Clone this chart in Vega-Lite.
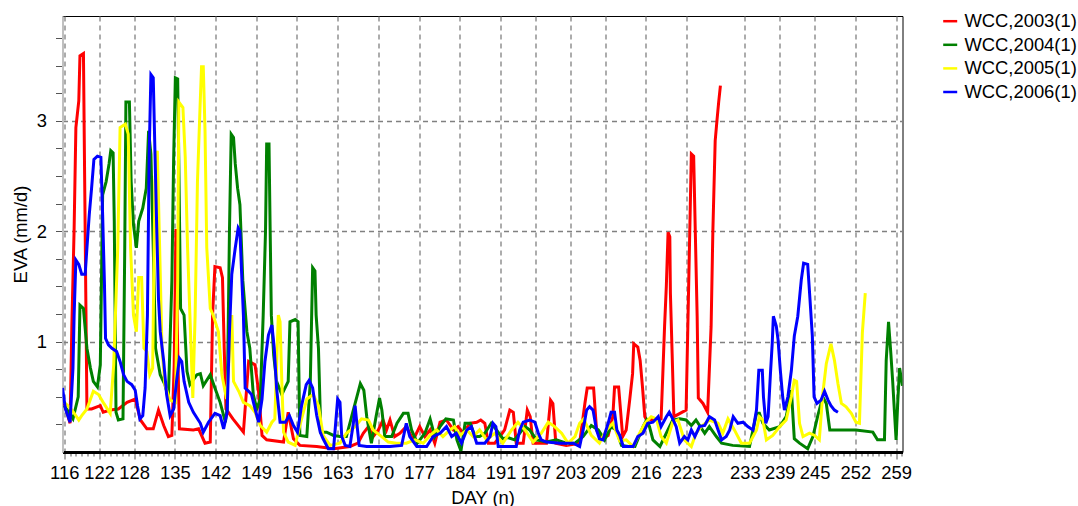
{
"$schema": "https://vega.github.io/schema/vega-lite/v6.json",
"width": 840, "height": 436,
"autosize": "none",
"padding": {"left": 62.5, "top": 16, "right": 175.5, "bottom": 54},
"background": "white",
"config": {"view": {"stroke": "black", "strokeWidth": 1}, "font": "Liberation Sans"},
"data": {"values": [
{"series":"WCC,2003(1)","day":116.0,"eva":0.44},{"series":"WCC,2003(1)","day":117.0,"eva":0.26},{"series":"WCC,2003(1)","day":117.3,"eva":1.12},{"series":"WCC,2003(1)","day":117.7,"eva":2.03},{"series":"WCC,2003(1)","day":118.0,"eva":2.94},{"series":"WCC,2003(1)","day":118.5,"eva":3.18},{"series":"WCC,2003(1)","day":118.7,"eva":3.59},{"series":"WCC,2003(1)","day":119.3,"eva":3.61},{"series":"WCC,2003(1)","day":119.5,"eva":2.52},{"series":"WCC,2003(1)","day":119.7,"eva":1.45},{"series":"WCC,2003(1)","day":119.9,"eva":0.39},{"series":"WCC,2003(1)","day":120.7,"eva":0.39},{"series":"WCC,2003(1)","day":122.2,"eva":0.42},{"series":"WCC,2003(1)","day":122.7,"eva":0.36},{"series":"WCC,2003(1)","day":123.9,"eva":0.38},{"series":"WCC,2003(1)","day":125.3,"eva":0.39},{"series":"WCC,2003(1)","day":126.8,"eva":0.45},{"series":"WCC,2003(1)","day":128.2,"eva":0.48},{"series":"WCC,2003(1)","day":129.1,"eva":0.29},{"series":"WCC,2003(1)","day":130.2,"eva":0.21},{"series":"WCC,2003(1)","day":131.3,"eva":0.21},{"series":"WCC,2003(1)","day":132.2,"eva":0.38},{"series":"WCC,2003(1)","day":133.1,"eva":0.24},{"series":"WCC,2003(1)","day":133.9,"eva":0.14},{"series":"WCC,2003(1)","day":134.5,"eva":0.15},{"series":"WCC,2003(1)","day":134.9,"eva":0.79},{"series":"WCC,2003(1)","day":135.2,"eva":2.02},{"series":"WCC,2003(1)","day":135.5,"eva":0.94},{"series":"WCC,2003(1)","day":135.8,"eva":0.21},{"series":"WCC,2003(1)","day":138.2,"eva":0.20},{"series":"WCC,2003(1)","day":139.1,"eva":0.21},{"series":"WCC,2003(1)","day":140.2,"eva":0.08},{"series":"WCC,2003(1)","day":141.1,"eva":0.09},{"series":"WCC,2003(1)","day":141.5,"eva":1.24},{"series":"WCC,2003(1)","day":141.9,"eva":1.68},{"series":"WCC,2003(1)","day":142.8,"eva":1.67},{"series":"WCC,2003(1)","day":143.2,"eva":1.58},{"series":"WCC,2003(1)","day":143.5,"eva":0.94},{"series":"WCC,2003(1)","day":143.8,"eva":0.39},{"series":"WCC,2003(1)","day":145.0,"eva":0.30},{"series":"WCC,2003(1)","day":146.8,"eva":0.18},{"series":"WCC,2003(1)","day":147.7,"eva":0.82},{"series":"WCC,2003(1)","day":148.8,"eva":0.79},{"series":"WCC,2003(1)","day":149.4,"eva":0.55},{"series":"WCC,2003(1)","day":150.0,"eva":0.15},{"series":"WCC,2003(1)","day":150.8,"eva":0.11},{"series":"WCC,2003(1)","day":153.7,"eva":0.09},{"series":"WCC,2003(1)","day":154.5,"eva":0.36},{"series":"WCC,2003(1)","day":155.4,"eva":0.12},{"series":"WCC,2003(1)","day":156.5,"eva":0.06},{"series":"WCC,2003(1)","day":159.4,"eva":0.05},{"series":"WCC,2003(1)","day":162.3,"eva":0.03},{"series":"WCC,2003(1)","day":165.1,"eva":0.05},{"series":"WCC,2003(1)","day":166.5,"eva":0.08},{"series":"WCC,2003(1)","day":167.4,"eva":0.17},{"series":"WCC,2003(1)","day":168.3,"eva":0.23},{"series":"WCC,2003(1)","day":169.1,"eva":0.14},{"series":"WCC,2003(1)","day":170.0,"eva":0.20},{"series":"WCC,2003(1)","day":170.8,"eva":0.29},{"series":"WCC,2003(1)","day":171.4,"eva":0.20},{"series":"WCC,2003(1)","day":172.0,"eva":0.29},{"series":"WCC,2003(1)","day":172.8,"eva":0.14},{"series":"WCC,2003(1)","day":173.7,"eva":0.17},{"series":"WCC,2003(1)","day":174.8,"eva":0.23},{"series":"WCC,2003(1)","day":176.0,"eva":0.11},{"series":"WCC,2003(1)","day":177.1,"eva":0.23},{"series":"WCC,2003(1)","day":178.0,"eva":0.14},{"series":"WCC,2003(1)","day":178.9,"eva":0.20},{"series":"WCC,2003(1)","day":179.7,"eva":0.08},{"series":"WCC,2003(1)","day":180.6,"eva":0.27},{"series":"WCC,2003(1)","day":181.7,"eva":0.29},{"series":"WCC,2003(1)","day":182.9,"eva":0.20},{"series":"WCC,2003(1)","day":183.7,"eva":0.23},{"series":"WCC,2003(1)","day":184.6,"eva":0.17},{"series":"WCC,2003(1)","day":185.7,"eva":0.26},{"series":"WCC,2003(1)","day":186.9,"eva":0.27},{"series":"WCC,2003(1)","day":187.6,"eva":0.29},{"series":"WCC,2003(1)","day":188.3,"eva":0.26},{"series":"WCC,2003(1)","day":188.9,"eva":0.08},{"series":"WCC,2003(1)","day":190.0,"eva":0.08},{"series":"WCC,2003(1)","day":190.9,"eva":0.14},{"series":"WCC,2003(1)","day":191.7,"eva":0.20},{"series":"WCC,2003(1)","day":192.6,"eva":0.38},{"series":"WCC,2003(1)","day":193.2,"eva":0.36},{"series":"WCC,2003(1)","day":193.7,"eva":0.08},{"series":"WCC,2003(1)","day":194.9,"eva":0.08},{"series":"WCC,2003(1)","day":195.6,"eva":0.38},{"series":"WCC,2003(1)","day":196.1,"eva":0.32},{"series":"WCC,2003(1)","day":196.6,"eva":0.08},{"series":"WCC,2003(1)","day":198.9,"eva":0.08},{"series":"WCC,2003(1)","day":199.6,"eva":0.47},{"series":"WCC,2003(1)","day":200.0,"eva":0.44},{"series":"WCC,2003(1)","day":200.5,"eva":0.08},{"series":"WCC,2003(1)","day":202.3,"eva":0.06},{"series":"WCC,2003(1)","day":204.6,"eva":0.08},{"series":"WCC,2003(1)","day":205.5,"eva":0.44},{"series":"WCC,2003(1)","day":205.9,"eva":0.58},{"series":"WCC,2003(1)","day":207.0,"eva":0.58},{"series":"WCC,2003(1)","day":207.5,"eva":0.20},{"series":"WCC,2003(1)","day":208.3,"eva":0.12},{"series":"WCC,2003(1)","day":209.5,"eva":0.15},{"series":"WCC,2003(1)","day":210.3,"eva":0.32},{"series":"WCC,2003(1)","day":210.6,"eva":0.59},{"series":"WCC,2003(1)","day":211.3,"eva":0.59},{"series":"WCC,2003(1)","day":212.0,"eva":0.14},{"series":"WCC,2003(1)","day":212.6,"eva":0.20},{"series":"WCC,2003(1)","day":213.2,"eva":0.47},{"series":"WCC,2003(1)","day":213.7,"eva":0.71},{"series":"WCC,2003(1)","day":213.9,"eva":0.98},{"series":"WCC,2003(1)","day":214.6,"eva":0.95},{"series":"WCC,2003(1)","day":215.0,"eva":0.83},{"series":"WCC,2003(1)","day":215.4,"eva":0.59},{"series":"WCC,2003(1)","day":215.8,"eva":0.32},{"series":"WCC,2003(1)","day":216.1,"eva":0.29},{"series":"WCC,2003(1)","day":218.6,"eva":0.30},{"series":"WCC,2003(1)","day":218.9,"eva":0.71},{"series":"WCC,2003(1)","day":219.2,"eva":1.14},{"series":"WCC,2003(1)","day":219.5,"eva":1.50},{"series":"WCC,2003(1)","day":219.8,"eva":1.99},{"series":"WCC,2003(1)","day":220.1,"eva":1.95},{"series":"WCC,2003(1)","day":220.2,"eva":1.44},{"series":"WCC,2003(1)","day":220.5,"eva":0.89},{"series":"WCC,2003(1)","day":220.8,"eva":0.32},{"series":"WCC,2003(1)","day":222.9,"eva":0.38},{"series":"WCC,2003(1)","day":223.2,"eva":1.14},{"series":"WCC,2003(1)","day":223.5,"eva":1.92},{"series":"WCC,2003(1)","day":223.8,"eva":2.70},{"series":"WCC,2003(1)","day":224.2,"eva":2.68},{"series":"WCC,2003(1)","day":224.5,"eva":1.95},{"series":"WCC,2003(1)","day":224.8,"eva":1.23},{"series":"WCC,2003(1)","day":225.0,"eva":0.49},{"series":"WCC,2003(1)","day":225.8,"eva":0.44},{"series":"WCC,2003(1)","day":226.6,"eva":0.36},{"series":"WCC,2003(1)","day":227.2,"eva":1.14},{"series":"WCC,2003(1)","day":227.5,"eva":2.00},{"series":"WCC,2003(1)","day":227.9,"eva":2.82},{"series":"WCC,2003(1)","day":228.2,"eva":3.00},{"series":"WCC,2003(1)","day":228.5,"eva":3.17},{"series":"WCC,2003(1)","day":228.8,"eva":3.32},
{"series":"WCC,2004(1)","day":116.0,"eva":0.42},{"series":"WCC,2004(1)","day":117.5,"eva":0.30},{"series":"WCC,2004(1)","day":118.4,"eva":0.50},{"series":"WCC,2004(1)","day":118.7,"eva":1.33},{"series":"WCC,2004(1)","day":119.3,"eva":1.30},{"series":"WCC,2004(1)","day":119.9,"eva":0.94},{"series":"WCC,2004(1)","day":120.5,"eva":0.76},{"series":"WCC,2004(1)","day":121.0,"eva":0.64},{"series":"WCC,2004(1)","day":121.7,"eva":0.59},{"series":"WCC,2004(1)","day":122.2,"eva":0.79},{"series":"WCC,2004(1)","day":122.6,"eva":2.33},{"series":"WCC,2004(1)","day":123.2,"eva":2.45},{"series":"WCC,2004(1)","day":123.7,"eva":2.61},{"series":"WCC,2004(1)","day":124.0,"eva":2.73},{"series":"WCC,2004(1)","day":124.4,"eva":2.71},{"series":"WCC,2004(1)","day":124.6,"eva":2.09},{"series":"WCC,2004(1)","day":124.9,"eva":0.36},{"series":"WCC,2004(1)","day":125.3,"eva":0.29},{"series":"WCC,2004(1)","day":126.1,"eva":0.30},{"series":"WCC,2004(1)","day":126.4,"eva":1.85},{"series":"WCC,2004(1)","day":126.6,"eva":3.17},{"series":"WCC,2004(1)","day":127.2,"eva":3.17},{"series":"WCC,2004(1)","day":127.5,"eva":2.45},{"series":"WCC,2004(1)","day":127.9,"eva":2.06},{"series":"WCC,2004(1)","day":128.4,"eva":1.85},{"series":"WCC,2004(1)","day":128.8,"eva":2.09},{"series":"WCC,2004(1)","day":129.5,"eva":2.21},{"series":"WCC,2004(1)","day":130.1,"eva":2.39},{"series":"WCC,2004(1)","day":130.5,"eva":2.91},{"series":"WCC,2004(1)","day":130.9,"eva":2.70},{"series":"WCC,2004(1)","day":131.3,"eva":1.85},{"series":"WCC,2004(1)","day":131.7,"eva":0.94},{"series":"WCC,2004(1)","day":132.5,"eva":0.70},{"series":"WCC,2004(1)","day":133.3,"eva":0.61},{"series":"WCC,2004(1)","day":133.9,"eva":0.49},{"series":"WCC,2004(1)","day":134.5,"eva":1.55},{"series":"WCC,2004(1)","day":134.8,"eva":2.64},{"series":"WCC,2004(1)","day":135.1,"eva":3.39},{"series":"WCC,2004(1)","day":135.5,"eva":3.38},{"series":"WCC,2004(1)","day":135.7,"eva":2.61},{"series":"WCC,2004(1)","day":136.0,"eva":1.30},{"series":"WCC,2004(1)","day":136.6,"eva":1.24},{"series":"WCC,2004(1)","day":137.1,"eva":0.73},{"series":"WCC,2004(1)","day":137.6,"eva":0.61},{"series":"WCC,2004(1)","day":138.8,"eva":0.70},{"series":"WCC,2004(1)","day":139.4,"eva":0.71},{"series":"WCC,2004(1)","day":139.9,"eva":0.60},{"series":"WCC,2004(1)","day":141.1,"eva":0.70},{"series":"WCC,2004(1)","day":141.9,"eva":0.58},{"series":"WCC,2004(1)","day":142.8,"eva":0.45},{"series":"WCC,2004(1)","day":143.7,"eva":0.27},{"series":"WCC,2004(1)","day":144.0,"eva":0.39},{"series":"WCC,2004(1)","day":144.4,"eva":2.00},{"series":"WCC,2004(1)","day":144.7,"eva":2.88},{"series":"WCC,2004(1)","day":145.1,"eva":2.85},{"series":"WCC,2004(1)","day":145.4,"eva":2.61},{"series":"WCC,2004(1)","day":145.8,"eva":2.39},{"series":"WCC,2004(1)","day":146.2,"eva":2.24},{"series":"WCC,2004(1)","day":146.7,"eva":1.55},{"series":"WCC,2004(1)","day":147.4,"eva":1.09},{"series":"WCC,2004(1)","day":147.9,"eva":0.94},{"series":"WCC,2004(1)","day":148.5,"eva":0.52},{"series":"WCC,2004(1)","day":149.1,"eva":0.39},{"series":"WCC,2004(1)","day":149.7,"eva":0.48},{"series":"WCC,2004(1)","day":150.2,"eva":1.24},{"series":"WCC,2004(1)","day":150.6,"eva":2.00},{"series":"WCC,2004(1)","day":150.8,"eva":2.79},{"series":"WCC,2004(1)","day":151.2,"eva":2.79},{"series":"WCC,2004(1)","day":151.4,"eva":2.00},{"series":"WCC,2004(1)","day":151.6,"eva":1.24},{"series":"WCC,2004(1)","day":152.0,"eva":0.88},{"series":"WCC,2004(1)","day":152.5,"eva":0.64},{"series":"WCC,2004(1)","day":153.4,"eva":0.52},{"series":"WCC,2004(1)","day":154.5,"eva":0.64},{"series":"WCC,2004(1)","day":154.8,"eva":1.18},{"series":"WCC,2004(1)","day":155.7,"eva":1.20},{"series":"WCC,2004(1)","day":156.2,"eva":1.18},{"series":"WCC,2004(1)","day":156.5,"eva":0.15},{"series":"WCC,2004(1)","day":157.7,"eva":0.14},{"series":"WCC,2004(1)","day":158.3,"eva":0.64},{"series":"WCC,2004(1)","day":158.7,"eva":1.67},{"series":"WCC,2004(1)","day":159.1,"eva":1.64},{"series":"WCC,2004(1)","day":159.3,"eva":1.24},{"series":"WCC,2004(1)","day":159.7,"eva":0.94},{"series":"WCC,2004(1)","day":160.1,"eva":0.18},{"series":"WCC,2004(1)","day":161.1,"eva":0.18},{"series":"WCC,2004(1)","day":162.3,"eva":0.15},{"series":"WCC,2004(1)","day":163.4,"eva":0.14},{"series":"WCC,2004(1)","day":164.5,"eva":0.14},{"series":"WCC,2004(1)","day":165.4,"eva":0.32},{"series":"WCC,2004(1)","day":166.3,"eva":0.50},{"series":"WCC,2004(1)","day":166.9,"eva":0.62},{"series":"WCC,2004(1)","day":167.5,"eva":0.56},{"series":"WCC,2004(1)","day":168.0,"eva":0.32},{"series":"WCC,2004(1)","day":168.8,"eva":0.08},{"series":"WCC,2004(1)","day":169.6,"eva":0.32},{"series":"WCC,2004(1)","day":170.2,"eva":0.49},{"series":"WCC,2004(1)","day":170.6,"eva":0.38},{"series":"WCC,2004(1)","day":171.1,"eva":0.14},{"series":"WCC,2004(1)","day":172.3,"eva":0.14},{"series":"WCC,2004(1)","day":173.2,"eva":0.26},{"series":"WCC,2004(1)","day":174.3,"eva":0.35},{"series":"WCC,2004(1)","day":175.1,"eva":0.35},{"series":"WCC,2004(1)","day":175.7,"eva":0.20},{"series":"WCC,2004(1)","day":176.7,"eva":0.08},{"series":"WCC,2004(1)","day":178.0,"eva":0.17},{"series":"WCC,2004(1)","day":178.9,"eva":0.30},{"series":"WCC,2004(1)","day":179.7,"eva":0.14},{"series":"WCC,2004(1)","day":180.6,"eva":0.23},{"series":"WCC,2004(1)","day":181.6,"eva":0.30},{"series":"WCC,2004(1)","day":182.9,"eva":0.29},{"series":"WCC,2004(1)","day":183.5,"eva":0.11},{"series":"WCC,2004(1)","day":184.2,"eva":0.01},{"series":"WCC,2004(1)","day":184.9,"eva":0.26},{"series":"WCC,2004(1)","day":185.8,"eva":0.26},{"series":"WCC,2004(1)","day":186.6,"eva":0.14},{"series":"WCC,2004(1)","day":187.4,"eva":0.14},{"series":"WCC,2004(1)","day":188.3,"eva":0.17},{"series":"WCC,2004(1)","day":189.4,"eva":0.26},{"series":"WCC,2004(1)","day":190.3,"eva":0.20},{"series":"WCC,2004(1)","day":191.4,"eva":0.12},{"series":"WCC,2004(1)","day":192.3,"eva":0.13},{"series":"WCC,2004(1)","day":193.4,"eva":0.11},{"series":"WCC,2004(1)","day":195.2,"eva":0.23},{"series":"WCC,2004(1)","day":196.0,"eva":0.20},{"series":"WCC,2004(1)","day":197.2,"eva":0.11},{"series":"WCC,2004(1)","day":198.9,"eva":0.09},{"series":"WCC,2004(1)","day":200.6,"eva":0.11},{"series":"WCC,2004(1)","day":202.3,"eva":0.08},{"series":"WCC,2004(1)","day":203.8,"eva":0.08},{"series":"WCC,2004(1)","day":205.2,"eva":0.14},{"series":"WCC,2004(1)","day":206.6,"eva":0.24},{"series":"WCC,2004(1)","day":207.8,"eva":0.20},{"series":"WCC,2004(1)","day":208.9,"eva":0.11},{"series":"WCC,2004(1)","day":210.0,"eva":0.23},{"series":"WCC,2004(1)","day":210.9,"eva":0.20},{"series":"WCC,2004(1)","day":211.8,"eva":0.06},{"series":"WCC,2004(1)","day":213.0,"eva":0.05},{"series":"WCC,2004(1)","day":214.1,"eva":0.05},{"series":"WCC,2004(1)","day":215.5,"eva":0.23},{"series":"WCC,2004(1)","day":216.1,"eva":0.29},{"series":"WCC,2004(1)","day":216.6,"eva":0.23},{"series":"WCC,2004(1)","day":217.2,"eva":0.11},{"series":"WCC,2004(1)","day":218.4,"eva":0.05},{"series":"WCC,2004(1)","day":219.5,"eva":0.17},{"series":"WCC,2004(1)","day":220.6,"eva":0.29},{"series":"WCC,2004(1)","day":221.8,"eva":0.30},{"series":"WCC,2004(1)","day":222.9,"eva":0.29},{"series":"WCC,2004(1)","day":223.8,"eva":0.24},{"series":"WCC,2004(1)","day":224.6,"eva":0.29},{"series":"WCC,2004(1)","day":226.1,"eva":0.17},{"series":"WCC,2004(1)","day":226.9,"eva":0.23},{"series":"WCC,2004(1)","day":228.1,"eva":0.14},{"series":"WCC,2004(1)","day":229.0,"eva":0.08},{"series":"WCC,2004(1)","day":230.9,"eva":0.06},{"series":"WCC,2004(1)","day":233.8,"eva":0.05},{"series":"WCC,2004(1)","day":235.0,"eva":0.35},{"series":"WCC,2004(1)","day":235.5,"eva":0.35},{"series":"WCC,2004(1)","day":236.1,"eva":0.26},{"series":"WCC,2004(1)","day":237.2,"eva":0.20},{"series":"WCC,2004(1)","day":239.0,"eva":0.23},{"series":"WCC,2004(1)","day":240.1,"eva":0.32},{"series":"WCC,2004(1)","day":241.0,"eva":0.56},{"series":"WCC,2004(1)","day":241.5,"eva":0.12},{"series":"WCC,2004(1)","day":242.4,"eva":0.08},{"series":"WCC,2004(1)","day":243.8,"eva":0.03},{"series":"WCC,2004(1)","day":244.7,"eva":0.14},{"series":"WCC,2004(1)","day":245.5,"eva":0.32},{"series":"WCC,2004(1)","day":246.4,"eva":0.50},{"series":"WCC,2004(1)","day":247.0,"eva":0.44},{"series":"WCC,2004(1)","day":247.6,"eva":0.20},{"series":"WCC,2004(1)","day":252.1,"eva":0.20},{"series":"WCC,2004(1)","day":255.0,"eva":0.18},{"series":"WCC,2004(1)","day":255.8,"eva":0.11},{"series":"WCC,2004(1)","day":257.0,"eva":0.11},{"series":"WCC,2004(1)","day":257.3,"eva":0.83},{"series":"WCC,2004(1)","day":257.7,"eva":1.18},{"series":"WCC,2004(1)","day":258.1,"eva":0.89},{"series":"WCC,2004(1)","day":258.4,"eva":0.65},{"series":"WCC,2004(1)","day":258.7,"eva":0.38},{"series":"WCC,2004(1)","day":259.0,"eva":0.11},{"series":"WCC,2004(1)","day":259.3,"eva":0.47},{"series":"WCC,2004(1)","day":259.6,"eva":0.76},{"series":"WCC,2004(1)","day":260.1,"eva":0.60},
{"series":"WCC,2005(1)","day":116.0,"eva":0.45},{"series":"WCC,2005(1)","day":117.0,"eva":0.40},{"series":"WCC,2005(1)","day":117.6,"eva":0.36},{"series":"WCC,2005(1)","day":118.5,"eva":0.29},{"series":"WCC,2005(1)","day":119.0,"eva":0.33},{"series":"WCC,2005(1)","day":119.9,"eva":0.39},{"series":"WCC,2005(1)","day":121.0,"eva":0.55},{"series":"WCC,2005(1)","day":121.9,"eva":0.52},{"series":"WCC,2005(1)","day":122.8,"eva":0.44},{"series":"WCC,2005(1)","day":123.9,"eva":0.35},{"series":"WCC,2005(1)","day":124.5,"eva":0.79},{"series":"WCC,2005(1)","day":125.2,"eva":1.85},{"series":"WCC,2005(1)","day":125.6,"eva":2.94},{"series":"WCC,2005(1)","day":126.5,"eva":2.97},{"series":"WCC,2005(1)","day":127.0,"eva":2.88},{"series":"WCC,2005(1)","day":127.4,"eva":1.85},{"series":"WCC,2005(1)","day":127.9,"eva":1.24},{"series":"WCC,2005(1)","day":128.4,"eva":1.09},{"series":"WCC,2005(1)","day":128.8,"eva":1.58},{"series":"WCC,2005(1)","day":129.3,"eva":1.58},{"series":"WCC,2005(1)","day":129.7,"eva":0.94},{"series":"WCC,2005(1)","day":130.2,"eva":0.91},{"series":"WCC,2005(1)","day":130.7,"eva":0.70},{"series":"WCC,2005(1)","day":131.2,"eva":0.76},{"series":"WCC,2005(1)","day":131.6,"eva":2.45},{"series":"WCC,2005(1)","day":132.0,"eva":2.73},{"series":"WCC,2005(1)","day":132.4,"eva":1.85},{"series":"WCC,2005(1)","day":132.8,"eva":0.94},{"series":"WCC,2005(1)","day":133.3,"eva":0.61},{"series":"WCC,2005(1)","day":134.2,"eva":0.47},{"series":"WCC,2005(1)","day":135.1,"eva":0.45},{"series":"WCC,2005(1)","day":135.5,"eva":1.55},{"series":"WCC,2005(1)","day":135.7,"eva":3.17},{"series":"WCC,2005(1)","day":136.4,"eva":3.12},{"series":"WCC,2005(1)","day":136.8,"eva":2.67},{"series":"WCC,2005(1)","day":137.2,"eva":1.85},{"series":"WCC,2005(1)","day":137.6,"eva":1.24},{"series":"WCC,2005(1)","day":138.1,"eva":0.49},{"series":"WCC,2005(1)","day":138.5,"eva":1.24},{"series":"WCC,2005(1)","day":138.9,"eva":2.45},{"series":"WCC,2005(1)","day":139.3,"eva":3.06},{"series":"WCC,2005(1)","day":139.6,"eva":3.49},{"series":"WCC,2005(1)","day":139.9,"eva":3.49},{"series":"WCC,2005(1)","day":140.2,"eva":2.91},{"series":"WCC,2005(1)","day":140.5,"eva":1.85},{"series":"WCC,2005(1)","day":141.1,"eva":1.30},{"series":"WCC,2005(1)","day":141.6,"eva":1.24},{"series":"WCC,2005(1)","day":142.5,"eva":1.09},{"series":"WCC,2005(1)","day":143.1,"eva":0.70},{"series":"WCC,2005(1)","day":143.9,"eva":0.48},{"series":"WCC,2005(1)","day":144.8,"eva":1.24},{"series":"WCC,2005(1)","day":145.1,"eva":0.64},{"series":"WCC,2005(1)","day":146.0,"eva":0.55},{"series":"WCC,2005(1)","day":146.8,"eva":0.45},{"series":"WCC,2005(1)","day":147.9,"eva":0.42},{"series":"WCC,2005(1)","day":148.8,"eva":0.36},{"series":"WCC,2005(1)","day":149.7,"eva":0.24},{"series":"WCC,2005(1)","day":150.8,"eva":0.18},{"series":"WCC,2005(1)","day":151.7,"eva":0.27},{"series":"WCC,2005(1)","day":152.2,"eva":0.30},{"series":"WCC,2005(1)","day":152.8,"eva":1.24},{"series":"WCC,2005(1)","day":153.1,"eva":1.18},{"series":"WCC,2005(1)","day":153.4,"eva":0.64},{"series":"WCC,2005(1)","day":153.7,"eva":0.18},{"series":"WCC,2005(1)","day":154.5,"eva":0.09},{"series":"WCC,2005(1)","day":155.7,"eva":0.06},{"series":"WCC,2005(1)","day":156.5,"eva":0.24},{"series":"WCC,2005(1)","day":157.7,"eva":0.48},{"series":"WCC,2005(1)","day":158.8,"eva":0.52},{"series":"WCC,2005(1)","day":159.7,"eva":0.42},{"series":"WCC,2005(1)","day":160.5,"eva":0.15},{"series":"WCC,2005(1)","day":161.7,"eva":0.06},{"series":"WCC,2005(1)","day":163.4,"eva":0.08},{"series":"WCC,2005(1)","day":164.5,"eva":0.17},{"series":"WCC,2005(1)","day":166.0,"eva":0.23},{"series":"WCC,2005(1)","day":167.1,"eva":0.30},{"series":"WCC,2005(1)","day":168.3,"eva":0.29},{"series":"WCC,2005(1)","day":169.1,"eva":0.20},{"series":"WCC,2005(1)","day":170.3,"eva":0.15},{"series":"WCC,2005(1)","day":171.7,"eva":0.09},{"series":"WCC,2005(1)","day":173.1,"eva":0.08},{"series":"WCC,2005(1)","day":174.8,"eva":0.08},{"series":"WCC,2005(1)","day":176.3,"eva":0.11},{"series":"WCC,2005(1)","day":177.7,"eva":0.08},{"series":"WCC,2005(1)","day":178.9,"eva":0.15},{"series":"WCC,2005(1)","day":180.0,"eva":0.20},{"series":"WCC,2005(1)","day":181.1,"eva":0.14},{"series":"WCC,2005(1)","day":182.3,"eva":0.20},{"series":"WCC,2005(1)","day":183.1,"eva":0.23},{"series":"WCC,2005(1)","day":184.0,"eva":0.15},{"series":"WCC,2005(1)","day":185.2,"eva":0.20},{"series":"WCC,2005(1)","day":186.3,"eva":0.14},{"series":"WCC,2005(1)","day":187.4,"eva":0.20},{"series":"WCC,2005(1)","day":188.6,"eva":0.11},{"series":"WCC,2005(1)","day":190.0,"eva":0.17},{"series":"WCC,2005(1)","day":191.4,"eva":0.08},{"series":"WCC,2005(1)","day":192.9,"eva":0.20},{"series":"WCC,2005(1)","day":194.0,"eva":0.27},{"series":"WCC,2005(1)","day":195.2,"eva":0.20},{"series":"WCC,2005(1)","day":196.6,"eva":0.09},{"series":"WCC,2005(1)","day":198.0,"eva":0.17},{"series":"WCC,2005(1)","day":199.2,"eva":0.27},{"series":"WCC,2005(1)","day":200.3,"eva":0.23},{"series":"WCC,2005(1)","day":201.5,"eva":0.17},{"series":"WCC,2005(1)","day":202.6,"eva":0.08},{"series":"WCC,2005(1)","day":203.8,"eva":0.14},{"series":"WCC,2005(1)","day":204.6,"eva":0.26},{"series":"WCC,2005(1)","day":205.3,"eva":0.30},{"series":"WCC,2005(1)","day":206.6,"eva":0.15},{"series":"WCC,2005(1)","day":208.0,"eva":0.08},{"series":"WCC,2005(1)","day":209.2,"eva":0.20},{"series":"WCC,2005(1)","day":210.3,"eva":0.26},{"series":"WCC,2005(1)","day":211.5,"eva":0.10},{"series":"WCC,2005(1)","day":212.6,"eva":0.11},{"series":"WCC,2005(1)","day":213.8,"eva":0.05},{"series":"WCC,2005(1)","day":214.9,"eva":0.17},{"series":"WCC,2005(1)","day":215.8,"eva":0.26},{"series":"WCC,2005(1)","day":216.9,"eva":0.32},{"series":"WCC,2005(1)","day":217.8,"eva":0.30},{"series":"WCC,2005(1)","day":218.6,"eva":0.14},{"series":"WCC,2005(1)","day":219.5,"eva":0.08},{"series":"WCC,2005(1)","day":220.6,"eva":0.27},{"series":"WCC,2005(1)","day":221.5,"eva":0.29},{"series":"WCC,2005(1)","day":222.6,"eva":0.11},{"series":"WCC,2005(1)","day":223.8,"eva":0.05},{"series":"WCC,2005(1)","day":224.6,"eva":0.17},{"series":"WCC,2005(1)","day":225.5,"eva":0.23},{"series":"WCC,2005(1)","day":226.9,"eva":0.29},{"series":"WCC,2005(1)","day":228.4,"eva":0.26},{"series":"WCC,2005(1)","day":229.2,"eva":0.17},{"series":"WCC,2005(1)","day":230.1,"eva":0.30},{"series":"WCC,2005(1)","day":231.2,"eva":0.20},{"series":"WCC,2005(1)","day":232.4,"eva":0.08},{"series":"WCC,2005(1)","day":233.8,"eva":0.08},{"series":"WCC,2005(1)","day":235.0,"eva":0.20},{"series":"WCC,2005(1)","day":235.5,"eva":0.32},{"series":"WCC,2005(1)","day":236.1,"eva":0.29},{"series":"WCC,2005(1)","day":236.7,"eva":0.11},{"series":"WCC,2005(1)","day":237.8,"eva":0.15},{"series":"WCC,2005(1)","day":239.0,"eva":0.23},{"series":"WCC,2005(1)","day":240.1,"eva":0.29},{"series":"WCC,2005(1)","day":241.0,"eva":0.50},{"series":"WCC,2005(1)","day":241.5,"eva":0.65},{"series":"WCC,2005(1)","day":241.9,"eva":0.64},{"series":"WCC,2005(1)","day":242.4,"eva":0.26},{"series":"WCC,2005(1)","day":243.0,"eva":0.14},{"series":"WCC,2005(1)","day":244.1,"eva":0.17},{"series":"WCC,2005(1)","day":245.0,"eva":0.15},{"series":"WCC,2005(1)","day":245.8,"eva":0.11},{"series":"WCC,2005(1)","day":246.4,"eva":0.53},{"series":"WCC,2005(1)","day":247.0,"eva":0.80},{"series":"WCC,2005(1)","day":247.8,"eva":0.98},{"series":"WCC,2005(1)","day":248.4,"eva":0.83},{"series":"WCC,2005(1)","day":249.0,"eva":0.62},{"series":"WCC,2005(1)","day":249.6,"eva":0.44},{"series":"WCC,2005(1)","day":250.4,"eva":0.41},{"series":"WCC,2005(1)","day":251.3,"eva":0.35},{"series":"WCC,2005(1)","day":252.1,"eva":0.27},{"series":"WCC,2005(1)","day":252.7,"eva":0.26},{"series":"WCC,2005(1)","day":253.2,"eva":1.08},{"series":"WCC,2005(1)","day":253.7,"eva":1.44},
{"series":"WCC,2006(1)","day":115.7,"eva":0.58},{"series":"WCC,2006(1)","day":116.2,"eva":0.39},{"series":"WCC,2006(1)","day":117.0,"eva":0.27},{"series":"WCC,2006(1)","day":117.5,"eva":0.76},{"series":"WCC,2006(1)","day":117.7,"eva":1.24},{"series":"WCC,2006(1)","day":118.0,"eva":1.74},{"series":"WCC,2006(1)","day":118.5,"eva":1.70},{"series":"WCC,2006(1)","day":119.0,"eva":1.61},{"series":"WCC,2006(1)","day":119.6,"eva":1.61},{"series":"WCC,2006(1)","day":119.9,"eva":1.85},{"series":"WCC,2006(1)","day":120.3,"eva":2.15},{"series":"WCC,2006(1)","day":120.7,"eva":2.39},{"series":"WCC,2006(1)","day":121.1,"eva":2.65},{"series":"WCC,2006(1)","day":121.7,"eva":2.68},{"series":"WCC,2006(1)","day":122.3,"eva":2.67},{"series":"WCC,2006(1)","day":122.6,"eva":2.15},{"series":"WCC,2006(1)","day":122.9,"eva":1.55},{"series":"WCC,2006(1)","day":123.1,"eva":1.03},{"series":"WCC,2006(1)","day":123.6,"eva":0.97},{"series":"WCC,2006(1)","day":124.2,"eva":0.94},{"series":"WCC,2006(1)","day":125.0,"eva":0.91},{"series":"WCC,2006(1)","day":125.6,"eva":0.82},{"series":"WCC,2006(1)","day":126.2,"eva":0.70},{"series":"WCC,2006(1)","day":126.8,"eva":0.64},{"series":"WCC,2006(1)","day":127.6,"eva":0.61},{"series":"WCC,2006(1)","day":128.2,"eva":0.56},{"series":"WCC,2006(1)","day":128.6,"eva":0.42},{"series":"WCC,2006(1)","day":129.0,"eva":0.30},{"series":"WCC,2006(1)","day":129.5,"eva":0.33},{"series":"WCC,2006(1)","day":129.9,"eva":0.58},{"series":"WCC,2006(1)","day":130.3,"eva":1.24},{"series":"WCC,2006(1)","day":130.6,"eva":2.70},{"series":"WCC,2006(1)","day":130.9,"eva":3.42},{"series":"WCC,2006(1)","day":131.3,"eva":3.39},{"series":"WCC,2006(1)","day":131.6,"eva":2.70},{"series":"WCC,2006(1)","day":131.9,"eva":2.03},{"series":"WCC,2006(1)","day":132.2,"eva":1.39},{"series":"WCC,2006(1)","day":132.5,"eva":1.09},{"series":"WCC,2006(1)","day":133.1,"eva":0.82},{"series":"WCC,2006(1)","day":133.6,"eva":0.52},{"series":"WCC,2006(1)","day":134.2,"eva":0.33},{"series":"WCC,2006(1)","day":134.8,"eva":0.39},{"series":"WCC,2006(1)","day":135.3,"eva":0.64},{"series":"WCC,2006(1)","day":135.8,"eva":0.85},{"series":"WCC,2006(1)","day":136.2,"eva":0.82},{"series":"WCC,2006(1)","day":136.6,"eva":0.64},{"series":"WCC,2006(1)","day":137.4,"eva":0.45},{"series":"WCC,2006(1)","day":138.2,"eva":0.36},{"series":"WCC,2006(1)","day":139.4,"eva":0.26},{"series":"WCC,2006(1)","day":139.9,"eva":0.18},{"series":"WCC,2006(1)","day":140.8,"eva":0.27},{"series":"WCC,2006(1)","day":141.9,"eva":0.35},{"series":"WCC,2006(1)","day":142.8,"eva":0.33},{"series":"WCC,2006(1)","day":143.4,"eva":0.21},{"series":"WCC,2006(1)","day":144.0,"eva":0.36},{"series":"WCC,2006(1)","day":144.4,"eva":1.09},{"series":"WCC,2006(1)","day":144.8,"eva":1.61},{"series":"WCC,2006(1)","day":145.4,"eva":1.85},{"series":"WCC,2006(1)","day":145.9,"eva":2.03},{"series":"WCC,2006(1)","day":146.2,"eva":2.00},{"series":"WCC,2006(1)","day":146.5,"eva":1.61},{"series":"WCC,2006(1)","day":146.8,"eva":1.24},{"series":"WCC,2006(1)","day":147.1,"eva":0.58},{"series":"WCC,2006(1)","day":147.7,"eva":0.55},{"series":"WCC,2006(1)","day":148.2,"eva":0.52},{"series":"WCC,2006(1)","day":148.8,"eva":0.39},{"series":"WCC,2006(1)","day":149.4,"eva":0.27},{"series":"WCC,2006(1)","day":150.0,"eva":0.48},{"series":"WCC,2006(1)","day":150.5,"eva":0.82},{"series":"WCC,2006(1)","day":151.1,"eva":1.06},{"series":"WCC,2006(1)","day":151.7,"eva":1.15},{"series":"WCC,2006(1)","day":152.1,"eva":0.94},{"series":"WCC,2006(1)","day":152.5,"eva":0.58},{"series":"WCC,2006(1)","day":153.1,"eva":0.27},{"series":"WCC,2006(1)","day":154.0,"eva":0.27},{"series":"WCC,2006(1)","day":154.7,"eva":0.33},{"series":"WCC,2006(1)","day":155.4,"eva":0.24},{"series":"WCC,2006(1)","day":156.1,"eva":0.18},{"series":"WCC,2006(1)","day":156.8,"eva":0.42},{"series":"WCC,2006(1)","day":157.6,"eva":0.61},{"series":"WCC,2006(1)","day":158.1,"eva":0.65},{"series":"WCC,2006(1)","day":158.7,"eva":0.58},{"series":"WCC,2006(1)","day":159.4,"eva":0.33},{"series":"WCC,2006(1)","day":160.0,"eva":0.18},{"series":"WCC,2006(1)","day":160.5,"eva":0.12},{"series":"WCC,2006(1)","day":161.4,"eva":0.03},{"series":"WCC,2006(1)","day":162.3,"eva":0.03},{"series":"WCC,2006(1)","day":163.0,"eva":0.48},{"series":"WCC,2006(1)","day":163.4,"eva":0.45},{"series":"WCC,2006(1)","day":163.7,"eva":0.14},{"series":"WCC,2006(1)","day":164.3,"eva":0.06},{"series":"WCC,2006(1)","day":165.1,"eva":0.05},{"series":"WCC,2006(1)","day":165.7,"eva":0.26},{"series":"WCC,2006(1)","day":166.0,"eva":0.42},{"series":"WCC,2006(1)","day":166.3,"eva":0.26},{"series":"WCC,2006(1)","day":166.7,"eva":0.06},{"series":"WCC,2006(1)","day":168.0,"eva":0.05},{"series":"WCC,2006(1)","day":172.0,"eva":0.05},{"series":"WCC,2006(1)","day":174.0,"eva":0.06},{"series":"WCC,2006(1)","day":174.8,"eva":0.26},{"series":"WCC,2006(1)","day":175.4,"eva":0.14},{"series":"WCC,2006(1)","day":176.6,"eva":0.05},{"series":"WCC,2006(1)","day":178.3,"eva":0.05},{"series":"WCC,2006(1)","day":179.4,"eva":0.14},{"series":"WCC,2006(1)","day":180.6,"eva":0.17},{"series":"WCC,2006(1)","day":181.7,"eva":0.23},{"series":"WCC,2006(1)","day":182.6,"eva":0.14},{"series":"WCC,2006(1)","day":183.4,"eva":0.17},{"series":"WCC,2006(1)","day":184.3,"eva":0.08},{"series":"WCC,2006(1)","day":185.2,"eva":0.20},{"series":"WCC,2006(1)","day":186.0,"eva":0.23},{"series":"WCC,2006(1)","day":186.9,"eva":0.08},{"series":"WCC,2006(1)","day":188.3,"eva":0.08},{"series":"WCC,2006(1)","day":189.2,"eva":0.14},{"series":"WCC,2006(1)","day":189.7,"eva":0.26},{"series":"WCC,2006(1)","day":190.2,"eva":0.23},{"series":"WCC,2006(1)","day":190.6,"eva":0.05},{"series":"WCC,2006(1)","day":193.7,"eva":0.05},{"series":"WCC,2006(1)","day":194.3,"eva":0.20},{"series":"WCC,2006(1)","day":194.9,"eva":0.27},{"series":"WCC,2006(1)","day":196.0,"eva":0.29},{"series":"WCC,2006(1)","day":196.9,"eva":0.27},{"series":"WCC,2006(1)","day":197.5,"eva":0.17},{"series":"WCC,2006(1)","day":198.0,"eva":0.11},{"series":"WCC,2006(1)","day":198.9,"eva":0.09},{"series":"WCC,2006(1)","day":201.2,"eva":0.08},{"series":"WCC,2006(1)","day":203.5,"eva":0.08},{"series":"WCC,2006(1)","day":204.6,"eva":0.05},{"series":"WCC,2006(1)","day":205.2,"eva":0.20},{"series":"WCC,2006(1)","day":205.8,"eva":0.38},{"series":"WCC,2006(1)","day":206.3,"eva":0.41},{"series":"WCC,2006(1)","day":206.9,"eva":0.38},{"series":"WCC,2006(1)","day":207.5,"eva":0.20},{"series":"WCC,2006(1)","day":208.0,"eva":0.12},{"series":"WCC,2006(1)","day":208.6,"eva":0.11},{"series":"WCC,2006(1)","day":209.5,"eva":0.26},{"series":"WCC,2006(1)","day":210.0,"eva":0.36},{"series":"WCC,2006(1)","day":210.6,"eva":0.36},{"series":"WCC,2006(1)","day":211.0,"eva":0.20},{"series":"WCC,2006(1)","day":211.5,"eva":0.15},{"series":"WCC,2006(1)","day":212.1,"eva":0.05},{"series":"WCC,2006(1)","day":213.8,"eva":0.05},{"series":"WCC,2006(1)","day":214.6,"eva":0.14},{"series":"WCC,2006(1)","day":215.5,"eva":0.17},{"series":"WCC,2006(1)","day":216.3,"eva":0.26},{"series":"WCC,2006(1)","day":217.2,"eva":0.27},{"series":"WCC,2006(1)","day":218.1,"eva":0.32},{"series":"WCC,2006(1)","day":218.6,"eva":0.23},{"series":"WCC,2006(1)","day":219.5,"eva":0.32},{"series":"WCC,2006(1)","day":220.0,"eva":0.36},{"series":"WCC,2006(1)","day":220.6,"eva":0.30},{"series":"WCC,2006(1)","day":221.2,"eva":0.23},{"series":"WCC,2006(1)","day":221.8,"eva":0.08},{"series":"WCC,2006(1)","day":222.6,"eva":0.14},{"series":"WCC,2006(1)","day":223.2,"eva":0.11},{"series":"WCC,2006(1)","day":223.8,"eva":0.20},{"series":"WCC,2006(1)","day":224.4,"eva":0.14},{"series":"WCC,2006(1)","day":225.2,"eva":0.23},{"series":"WCC,2006(1)","day":226.1,"eva":0.24},{"series":"WCC,2006(1)","day":226.9,"eva":0.32},{"series":"WCC,2006(1)","day":227.8,"eva":0.29},{"series":"WCC,2006(1)","day":228.4,"eva":0.20},{"series":"WCC,2006(1)","day":229.0,"eva":0.11},{"series":"WCC,2006(1)","day":229.8,"eva":0.14},{"series":"WCC,2006(1)","day":230.4,"eva":0.20},{"series":"WCC,2006(1)","day":231.0,"eva":0.32},{"series":"WCC,2006(1)","day":231.8,"eva":0.26},{"series":"WCC,2006(1)","day":232.7,"eva":0.27},{"series":"WCC,2006(1)","day":233.5,"eva":0.23},{"series":"WCC,2006(1)","day":234.4,"eva":0.20},{"series":"WCC,2006(1)","day":235.0,"eva":0.38},{"series":"WCC,2006(1)","day":235.4,"eva":0.74},{"series":"WCC,2006(1)","day":236.0,"eva":0.74},{"series":"WCC,2006(1)","day":236.2,"eva":0.50},{"series":"WCC,2006(1)","day":236.6,"eva":0.26},{"series":"WCC,2006(1)","day":237.0,"eva":0.32},{"series":"WCC,2006(1)","day":237.4,"eva":0.71},{"series":"WCC,2006(1)","day":237.7,"eva":0.98},{"series":"WCC,2006(1)","day":237.9,"eva":1.23},{"series":"WCC,2006(1)","day":238.4,"eva":1.14},{"series":"WCC,2006(1)","day":238.7,"eva":1.02},{"series":"WCC,2006(1)","day":239.1,"eva":0.74},{"series":"WCC,2006(1)","day":239.5,"eva":0.50},{"series":"WCC,2006(1)","day":239.8,"eva":0.38},{"series":"WCC,2006(1)","day":240.4,"eva":0.50},{"series":"WCC,2006(1)","day":241.0,"eva":0.74},{"series":"WCC,2006(1)","day":241.5,"eva":1.05},{"series":"WCC,2006(1)","day":242.1,"eva":1.23},{"series":"WCC,2006(1)","day":242.7,"eva":1.56},{"series":"WCC,2006(1)","day":243.1,"eva":1.71},{"series":"WCC,2006(1)","day":243.8,"eva":1.70},{"series":"WCC,2006(1)","day":244.2,"eva":1.38},{"series":"WCC,2006(1)","day":244.6,"eva":1.05},{"series":"WCC,2006(1)","day":244.9,"eva":0.50},{"series":"WCC,2006(1)","day":245.4,"eva":0.44},{"series":"WCC,2006(1)","day":246.1,"eva":0.47},{"series":"WCC,2006(1)","day":246.7,"eva":0.55},{"series":"WCC,2006(1)","day":247.3,"eva":0.47},{"series":"WCC,2006(1)","day":247.8,"eva":0.42},{"series":"WCC,2006(1)","day":248.4,"eva":0.38},{"series":"WCC,2006(1)","day":249.0,"eva":0.36}
]},
"mark": {"type": "line", "strokeWidth": 3, "clip": true},
"encoding": {
"x": {"field": "day", "type": "quantitative",
 "scale": {"domain": [115.7, 260.1], "nice": false, "zero": false},
 "axis": {"title": "DAY (n)",
  "values": [116,117,118,119,120,121,122,123,124,125,126,127,128,129,130,131,132,133,134,135,136,137,138,139,140,141,142,143,144,145,146,147,148,149,150,151,152,153,154,155,156,157,158,159,160,161,162,163,164,165,166,167,168,169,170,171,172,173,174,175,176,177,178,179,180,181,182,183,184,185,186,187,188,189,190,191,192,193,194,195,196,197,198,199,200,201,202,203,204,205,206,207,208,209,210,211,212,213,214,215,216,217,218,219,220,221,222,223,224,225,226,227,228,229,230,231,232,233,234,235,236,237,238,239,240,241,242,243,244,245,246,247,248,249,250,251,252,253,254,255,256,257,258,259,260],
  "labelExpr": "indexof([116,122,128,135,142,149,156,163,170,177,184,191,197,203,209,216,223,233,239,245,252,259], datum.value) >= 0 ? datum.label : ''",
  "labelOverlap": false, "labelFlush": false, "labelBound": false,
  "grid": true, "gridColor": "#808080", "gridDash": [5, 4], "gridWidth": 1.3,
  "gridOpacity": {"condition": {"test": "indexof([116,122,128,135,142,149,156,163,170,177,184,191,197,203,209,216,223,233,239,245,252,259], datum.value) >= 0", "value": 1}, "value": 0},
  "tickSize": {"condition": {"test": "indexof([116,122,128,135,142,149,156,163,170,177,184,191,197,203,209,216,223,233,239,245,252,259], datum.value) >= 0", "value": 7}, "value": 4},
  "tickColor": "#555555", "tickWidth": 1,
  "domainColor": "black", "domainWidth": 3,
  "labelFont": "Liberation Sans", "labelFontSize": 18.4, "labelColor": "black", "labelPadding": 4,
  "titleFont": "Liberation Sans", "titleFontSize": 18.4, "titleFontWeight": "normal", "titleColor": "black",
  "titleY": 45, "titleBaseline": "middle"}},
"y": {"field": "eva", "type": "quantitative",
 "scale": {"domain": [0, 3.95], "nice": false, "zero": true},
 "axis": {"title": "EVA (mm/d)",
  "values": [0.25,0.5,0.75,1,1.25,1.5,1.75,2,2.25,2.5,2.75,3,3.25,3.5,3.75],
  "labelExpr": "datum.value % 1 === 0 ? format(datum.value, 'd') : ''",
  "labelOverlap": false, "labelFlush": false,
  "grid": true, "gridColor": "#808080", "gridDash": [5, 4], "gridWidth": 1.3,
  "gridOpacity": {"condition": {"test": "datum.value % 1 === 0", "value": 1}, "value": 0},
  "tickSize": 7,
  "tickColor": "#555555", "tickWidth": 1,
  "domainColor": "#c0c0c0", "domainWidth": 2,
  "labelFont": "Liberation Sans", "labelFontSize": 18.4, "labelColor": "black", "labelPadding": 9,
  "titleFont": "Liberation Sans", "titleFontSize": 18.4, "titleFontWeight": "normal", "titleColor": "black",
  "titleX": -42, "titleY": 218, "titleAngle": -90, "titleAlign": "center", "titleBaseline": "middle"}},
"color": {"field": "series", "type": "nominal",
 "scale": {"domain": ["WCC,2003(1)", "WCC,2004(1)", "WCC,2005(1)", "WCC,2006(1)"], "range": ["#ff0000", "#008000", "#ffff00", "#0000ff"]},
 "legend": {"orient": "none", "legendX": 878.5, "legendY": -4, "title": null, "padding": 0,
  "symbolType": "stroke", "symbolSize": 196, "symbolStrokeWidth": 2.5,
  "labelFont": "Liberation Sans", "labelFontSize": 18.4, "labelColor": "black", "labelOffset": 5, "rowPadding": 4.6}}
}
}
